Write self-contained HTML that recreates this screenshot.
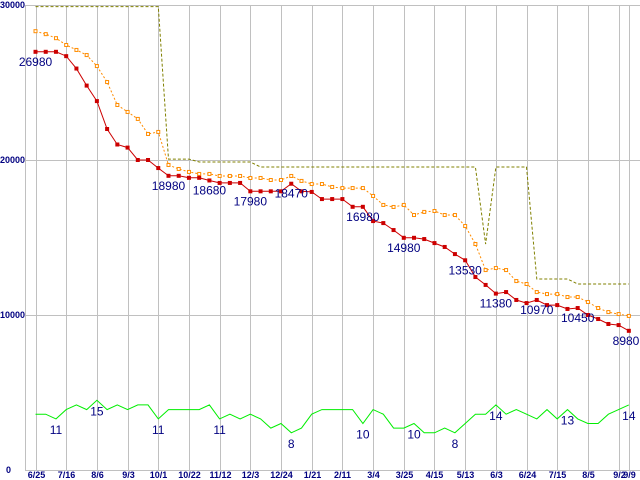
<!DOCTYPE html>
<html><head><meta charset="utf-8"><style>
html,body{margin:0;padding:0;background:#fff;}
svg{display:block;}
.tick{font-family:"Liberation Sans",sans-serif;font-size:9px;font-weight:bold;fill:#000080;}
.lbl{font-family:"Liberation Sans",sans-serif;font-size:12px;fill:#000080;}
</style></head><body>
<svg id="chart" width="640" height="480" xmlns="http://www.w3.org/2000/svg"></svg>
<script>
const redValues=[26980,26980,26980,26700,25900,24800,23800,22000,21000,20800,20000,20000,19480,18980,18980,18850,18850,18680,18520,18520,18520,17980,17980,17980,17980,18470,17980,17940,17480,17480,17480,16980,16980,16060,15930,15480,14980,14980,14900,14640,14390,13930,13530,12450,11940,11380,11480,10970,10770,10970,10640,10640,10390,10450,10000,9740,9420,9350,8980];
const orangeValues=[28310,28120,27860,27420,27100,26770,26060,25030,23550,23100,22650,21680,21810,19680,19420,19230,19100,19100,18970,18970,18970,18840,18840,18710,18710,18970,18650,18450,18450,18260,18190,18190,18190,17680,17100,16970,17100,16450,16650,16710,16450,16450,15740,14580,12900,13030,12900,12190,12000,11480,11350,11350,11160,11160,10840,10450,10190,10060,9940];
const oliveValues=[29900,29900,29900,29900,29900,29900,29900,29900,29900,29900,29900,29900,29900,20060,20060,20060,19870,19870,19870,19870,19870,19870,19550,19550,19550,19550,19550,19550,19550,19550,19550,19550,19550,19550,19550,19550,19550,19550,19550,19550,19550,19550,19550,19550,14580,19550,19550,19550,19550,12320,12320,12320,12320,12000,12000,12000,12000,12000,12000];
const greenValues=[12,12,11,13,14,13,15,13,14,13,14,14,11,13,13,13,13,14,11,12,11,12,11,9,10,8,9,12,13,13,13,13,10,13,12,9,9,10,8,8,9,8,10,12,12,14,12,13,12,11,13,11,13,11,10,10,12,13,14];
const xTickIdx=[0,3,6,9,12,15,18,21,24,27,30,33,36,39,42,45,48,51,54,57,58];
const xTickLabels=["6/25","7/16","8/6","9/3","10/1","10/22","11/12","12/3","12/24","1/21","2/11","3/4","3/25","4/15","5/13","6/3","6/24","7/15","8/5","9/2","9/9"];
const yTicks=[0,10000,20000,30000];
const redLabelIdx=[0,13,17,21,25,32,36,42,45,49,53,58];
const greenLabelIdx=[2,6,12,18,25,32,37,41,45,52,58];

const svg=document.getElementById('chart');
const NS='http://www.w3.org/2000/svg';
const xOf=i=>35.5+i*10.23;
const yOf=v=>470-v*155/10000;
const yG=v=>470-v*4.65;
function mk(tag,attrs,parent){const e=document.createElementNS(NS,tag);for(const k in attrs)e.setAttribute(k,attrs[k]);(parent||svg).appendChild(e);return e;}

const grid=mk('g',{});


yTicks.forEach(v=>{
  const l=mk('line',{x1:25,x2:640,y1:Math.round(yOf(v))+0.5,y2:Math.round(yOf(v))+0.5,stroke:'#c0c0c0','stroke-width':1},grid);
  
  
  const t=mk('text',{x:v===0?6:0,y:yOf(v)+3,class:'tick'});
  
  
  t.textContent=String(v);
  if(v===0){t.setAttribute('font-size','7');}
});
mk('line',{x1:25.5,x2:25.5,y1:5,y2:470,stroke:'#c0c0c0'},grid);
xTickIdx.forEach((idx,k)=>{
  const x=Math.round(xOf(idx))+0.5;
  const l=mk('line',{x1:x,x2:x,y1:5,y2:470,stroke:'#c0c0c0'},grid);
  
  
  const t=mk('text',{x:x,y:478,'text-anchor':'middle',class:'tick'});
  
  
  t.textContent=xTickLabels[k];
});

function series(vals,yf,color,dash,name){
  const p=mk('polyline',{points:vals.map((v,i)=>xOf(i).toFixed(1)+','+yf(v).toFixed(1)).join(' '),fill:'none',stroke:color,'stroke-width':1,'stroke-dasharray':dash||'none'});
  
  
}
series(oliveValues,yOf,'#808000','3,2','olive-series-line');
series(orangeValues,yOf,'#ff8c00','2,2','orange-series-line');
orangeValues.forEach((v,i)=>{
  const r=mk('rect',{x:xOf(i)-1.5,y:yOf(v)-1.5,width:3,height:3,fill:'#fff',stroke:'#ff8c00','stroke-width':1});
  
  
});
series(redValues,yOf,'#cc0000','','red-series-line');
redValues.forEach((v,i)=>{
  const r=mk('rect',{x:xOf(i)-2,y:yOf(v)-2,width:4,height:4,fill:'#cc0000'});
  
  
});
series(greenValues,yG,'#00ee00','','green-series-line');
redLabelIdx.forEach(i=>{
  let x=xOf(i);
  const t=mk('text',{x:Math.min(x,626),y:yOf(redValues[i])+14,'text-anchor':'middle',class:'lbl'});
  
  
  t.textContent=String(redValues[i]);
});
greenLabelIdx.forEach(i=>{
  const t=mk('text',{x:xOf(i),y:yG(greenValues[i])+15,'text-anchor':'middle',class:'lbl'});
  
  
  t.textContent=String(greenValues[i]);
});
</script>
</body></html>
